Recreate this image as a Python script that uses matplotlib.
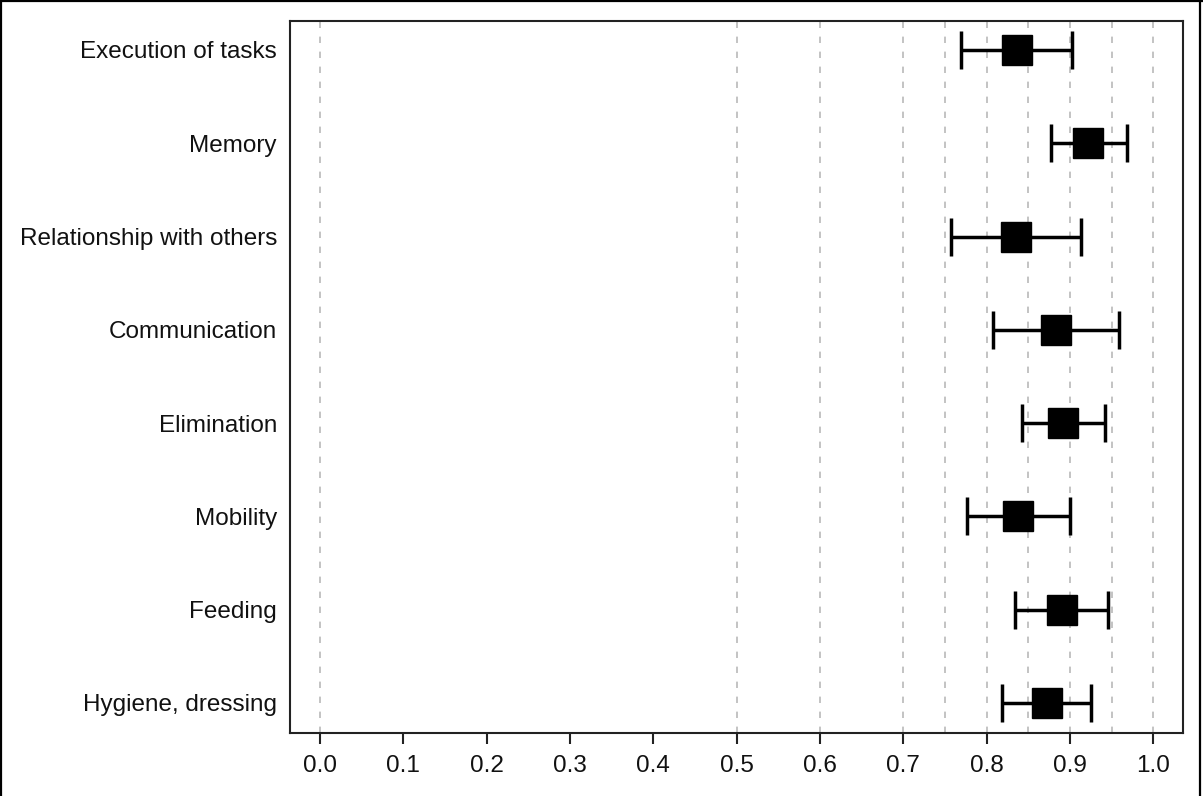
import matplotlib
matplotlib.use("Agg")
import matplotlib.pyplot as plt
from matplotlib.lines import Line2D

# data, top to bottom
domains = [
    "Execution of tasks",
    "Memory",
    "Relationship with others",
    "Communication",
    "Elimination",
    "Mobility",
    "Feeding",
    "Hygiene, dressing",
]
estimate = [0.836, 0.922, 0.835, 0.883, 0.892, 0.838, 0.890, 0.872]
lower = [0.769, 0.877, 0.757, 0.808, 0.843, 0.777, 0.834, 0.818]
upper = [0.903, 0.968, 0.913, 0.959, 0.942, 0.900, 0.946, 0.925]

xticks = [0.0, 0.1, 0.2, 0.3, 0.4, 0.5, 0.6, 0.7, 0.8, 0.9, 1.0]
ref_lines = [0.0, 0.5, 0.6, 0.7, 0.75, 0.8, 0.85, 0.9, 0.95, 1.0]

plt.rcParams["font.family"] = ["Liberation Sans", "DejaVu Sans"]
plt.rcParams["lines.scale_dashes"] = False

fig = plt.figure(figsize=(12.03, 7.96), dpi=100)
ax = fig.add_axes([0.2411, 0.0788, 0.9836 - 0.2411, 0.974 - 0.0788])

for x in ref_lines:
    ax.axvline(x, color="#b3b3b3", lw=1.1, linestyle=(0, (4.6, 6.2)), zorder=1)

ypos = list(range(len(domains)))
xerr = [[e - lo for e, lo in zip(estimate, lower)],
        [hi - e for e, hi in zip(estimate, upper)]]
ax.errorbar(estimate, ypos, xerr=xerr, fmt="s", color="black", ecolor="black",
            elinewidth=2.5, capsize=13.7, capthick=2.5, markersize=21, zorder=3)

ax.set_xlim(-0.036, 1.036)
ax.set_ylim(7.325, -0.314)
ax.set_xticks(xticks)
ax.set_xticklabels([f"{t:.1f}" for t in xticks])
ax.set_yticks(ypos)
ax.set_yticklabels(domains)

ax.tick_params(axis="y", length=0, pad=9.4, labelsize=17.5, labelcolor="#111111")
ax.tick_params(axis="x", length=8, width=1.5, pad=8, labelsize=17.5,
               labelcolor="#111111", color="#222222")
for sp in ax.spines.values():
    sp.set_linewidth(1.5)
    sp.set_color("#222222")

# outer frame (left, top, right)
for xs, ys in [([0.0012, 0.0012], [0, 1]), ([0, 1], [0.9985, 0.9985]),
               ([0.9975, 0.9975], [0, 1])]:
    fig.add_artist(Line2D(xs, ys, transform=fig.transFigure, color="black", lw=1.6))

fig.savefig("out.png", dpi=100)
